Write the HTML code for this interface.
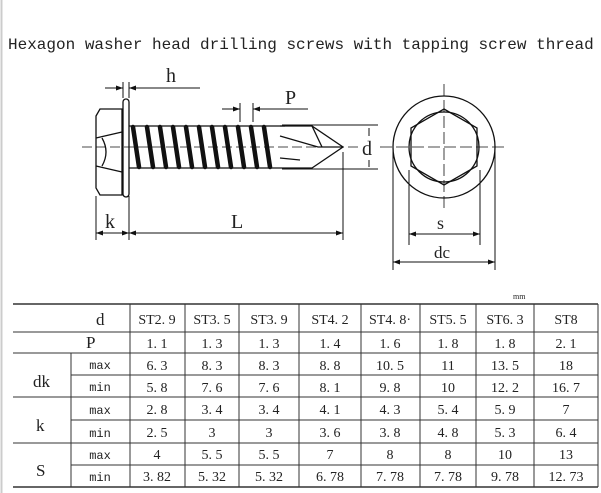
<!DOCTYPE html>
<html><head><meta charset="utf-8"><style>
html,body{margin:0;padding:0;background:#fff;width:601px;height:493px;overflow:hidden}
svg{display:block}
text{font-family:"Liberation Serif","Noto Serif CJK SC",serif;fill:#222}
text.m{font-family:"Liberation Mono",monospace}
</style></head><body>
<svg width="601" height="493" viewBox="0 0 601 493" xmlns="http://www.w3.org/2000/svg">
<rect x="0" y="0" width="601" height="493" fill="#fff"/>
<line x1="1.5" y1="0" x2="1.5" y2="493" stroke="#ccc" stroke-width="2"/>
<text x="8" y="49" class="m" font-size="16" fill="#222">Hexagon washer head drilling screws with tapping screw thread</text>

<g stroke="#111" fill="none" stroke-width="1.3">
<path d="M96,116 L100,109 L122,109 L122,195 L100,195 L96,188 Z"/>
<line x1="96" y1="138" x2="122" y2="132"/>
<line x1="96" y1="166" x2="122" y2="172"/>
<path d="M102,138 Q110,152 102,166"/>
<rect x="123" y="99" width="6" height="98" rx="3"/>
<line x1="129" y1="126" x2="285" y2="126"/>
<line x1="129" y1="168" x2="280" y2="168"/>
<path d="M280,126 L312,126 L343,147 L312,168 L280,168"/>
<path d="M280,136 L318,147 L343,147"/>
<path d="M280,158 L300,160"/>
<line x1="312" y1="126" x2="322" y2="147"/>
<line x1="82" y1="147" x2="360" y2="147" stroke-width="0.8" stroke-dasharray="10,4"/>
<line x1="282" y1="125" x2="378" y2="125" stroke-width="1"/>
<line x1="282" y1="169" x2="378" y2="169" stroke-width="1"/>
<line x1="369" y1="128" x2="369" y2="136" stroke-width="1"/>
<line x1="369" y1="160" x2="369" y2="167" stroke-width="1"/>
<line x1="96" y1="196" x2="96" y2="240" stroke-width="1"/>
<line x1="129" y1="196" x2="129" y2="240" stroke-width="1"/>
<line x1="343" y1="152" x2="343" y2="240" stroke-width="1"/>
<line x1="96" y1="233" x2="343" y2="233" stroke-width="1"/>
<line x1="123" y1="82" x2="123" y2="98" stroke-width="1"/>
<line x1="129" y1="82" x2="129" y2="98" stroke-width="1"/>
<line x1="105" y1="88" x2="123" y2="88" stroke-width="1"/>
<line x1="129" y1="88" x2="200" y2="88" stroke-width="1"/>
<line x1="240" y1="103" x2="240" y2="122" stroke-width="1"/>
<line x1="253" y1="103" x2="253" y2="122" stroke-width="1"/>
<line x1="222" y1="109" x2="240" y2="109" stroke-width="1"/>
<line x1="253" y1="109" x2="308" y2="109" stroke-width="1"/>
</g>
<g fill="#111">
<path d="M96,233 l7,-2.5 v5z M129,233 l-7,-2.5 v5z M129,233 l7,-2.5 v5z M343,233 l-7,-2.5 v5z"/>
<path d="M123,88 l-7,-2.5 v5z M129,88 l7,-2.5 v5z M240,109 l-7,-2.5 v5z M253,109 l7,-2.5 v5z"/>
</g>
<g stroke="#111" stroke-width="4.5" stroke-linecap="round">
<line x1="133" y1="127" x2="139" y2="167"/>
<line x1="147" y1="127" x2="153" y2="167"/>
<line x1="160" y1="127" x2="166" y2="167"/>
<line x1="173" y1="127" x2="179" y2="167"/>
<line x1="186" y1="127" x2="192" y2="167"/>
<line x1="199" y1="127" x2="205" y2="167"/>
<line x1="212" y1="127" x2="218" y2="167"/>
<line x1="225" y1="127" x2="231" y2="167"/>
<line x1="238" y1="127" x2="244" y2="167"/>
<line x1="251" y1="127" x2="257" y2="167"/>
<line x1="264" y1="127" x2="270" y2="167"/>
</g>
<text x="166" y="82" font-size="20">h</text>
<text x="285" y="104" font-size="20">P</text>
<text x="362" y="155" font-size="20">d</text>
<text x="105" y="228" font-size="20">k</text>
<text x="231" y="228" font-size="20">L</text>

<g stroke="#111" fill="none" stroke-width="1.3">
<circle cx="444" cy="147" r="51"/>
<path d="M444,109 L477,128 L477,166 L444,185 L411,166 L411,128 Z"/>
<circle cx="444" cy="147" r="35"/>
<g stroke-width="0.8" stroke-dasharray="12,4">
<line x1="380" y1="147" x2="508" y2="147"/>
<line x1="444" y1="84" x2="444" y2="210"/>
</g>
<g stroke-width="1">
<line x1="409" y1="170" x2="409" y2="245"/>
<line x1="480" y1="170" x2="480" y2="245"/>
<line x1="393" y1="150" x2="393" y2="270"/>
<line x1="495" y1="150" x2="495" y2="270"/>
<line x1="409" y1="234" x2="480" y2="234"/>
<line x1="393" y1="262" x2="495" y2="262"/>
</g>
</g>
<g fill="#111"><path d="M409,234 l7,-2.5 v5z M480,234 l-7,-2.5 v5z M393,262 l7,-2.5 v5z M495,262 l-7,-2.5 v5z"/></g>
<text x="437" y="229" font-size="18">s</text>
<text x="434" y="258" font-size="17">dc</text>

<text x="513" y="299" font-size="8">mm</text>
<g stroke="#333" stroke-width="1">
<line x1="13" y1="304" x2="598" y2="304" stroke-width="1.5"/>
<line x1="13" y1="332" x2="598" y2="332"/>
<line x1="13" y1="353" x2="598" y2="353"/>
<line x1="71" y1="375" x2="598" y2="375"/>
<line x1="13" y1="397" x2="598" y2="397"/>
<line x1="71" y1="420" x2="598" y2="420"/>
<line x1="13" y1="443" x2="598" y2="443"/>
<line x1="71" y1="465" x2="598" y2="465"/>
<line x1="13" y1="487" x2="598" y2="487" stroke-width="1.5"/>
<line x1="71" y1="353" x2="71" y2="487"/>
<line x1="130" y1="304" x2="130" y2="487"/>
<line x1="185" y1="304" x2="185" y2="487"/>
<line x1="239" y1="304" x2="239" y2="487"/>
<line x1="299" y1="304" x2="299" y2="487"/>
<line x1="361" y1="304" x2="361" y2="487"/>
<line x1="420" y1="304" x2="420" y2="487"/>
<line x1="476" y1="304" x2="476" y2="487"/>
<line x1="534" y1="304" x2="534" y2="487"/>
<line x1="598" y1="304" x2="598" y2="487"/>
</g>
<g font-size="17">
<text x="96" y="325">d</text>
<text x="86" y="348">P</text>
<text x="33" y="387">dk</text>
<text x="36" y="431">k</text>
<text x="36" y="476">S</text>
</g>
<g font-size="12" text-anchor="middle">
<text class="m" x="100" y="369">max</text><text class="m" x="100" y="391">min</text>
<text class="m" x="100" y="414">max</text><text class="m" x="100" y="437">min</text>
<text class="m" x="100" y="459">max</text><text class="m" x="100" y="481">min</text>
</g>
<g font-size="14" text-anchor="middle">
<g transform="translate(0,324)"><text x="157">ST2. 9</text><text x="212">ST3. 5</text><text x="269">ST3. 9</text><text x="330">ST4. 2</text><text x="390">ST4. 8·</text><text x="448">ST5. 5</text><text x="505">ST6. 3</text><text x="566">ST8</text></g>
<g transform="translate(0,348)"><text x="157">1. 1</text><text x="212">1. 3</text><text x="269">1. 3</text><text x="330">1. 4</text><text x="390">1. 6</text><text x="448">1. 8</text><text x="505">1. 8</text><text x="566">2. 1</text></g>
<g transform="translate(0,370)"><text x="157">6. 3</text><text x="212">8. 3</text><text x="269">8. 3</text><text x="330">8. 8</text><text x="390">10. 5</text><text x="448">11</text><text x="505">13. 5</text><text x="566">18</text></g>
<g transform="translate(0,392)"><text x="157">5. 8</text><text x="212">7. 6</text><text x="269">7. 6</text><text x="330">8. 1</text><text x="390">9. 8</text><text x="448">10</text><text x="505">12. 2</text><text x="566">16. 7</text></g>
<g transform="translate(0,414)"><text x="157">2. 8</text><text x="212">3. 4</text><text x="269">3. 4</text><text x="330">4. 1</text><text x="390">4. 3</text><text x="448">5. 4</text><text x="505">5. 9</text><text x="566">7</text></g>
<g transform="translate(0,437)"><text x="157">2. 5</text><text x="212">3</text><text x="269">3</text><text x="330">3. 6</text><text x="390">3. 8</text><text x="448">4. 8</text><text x="505">5. 3</text><text x="566">6. 4</text></g>
<g transform="translate(0,459)"><text x="157">4</text><text x="212">5. 5</text><text x="269">5. 5</text><text x="330">7</text><text x="390">8</text><text x="448">8</text><text x="505">10</text><text x="566">13</text></g>
<g transform="translate(0,481)"><text x="157">3. 82</text><text x="212">5. 32</text><text x="269">5. 32</text><text x="330">6. 78</text><text x="390">7. 78</text><text x="448">7. 78</text><text x="505">9. 78</text><text x="566">12. 73</text></g>
</g>
</svg>
</body></html>
